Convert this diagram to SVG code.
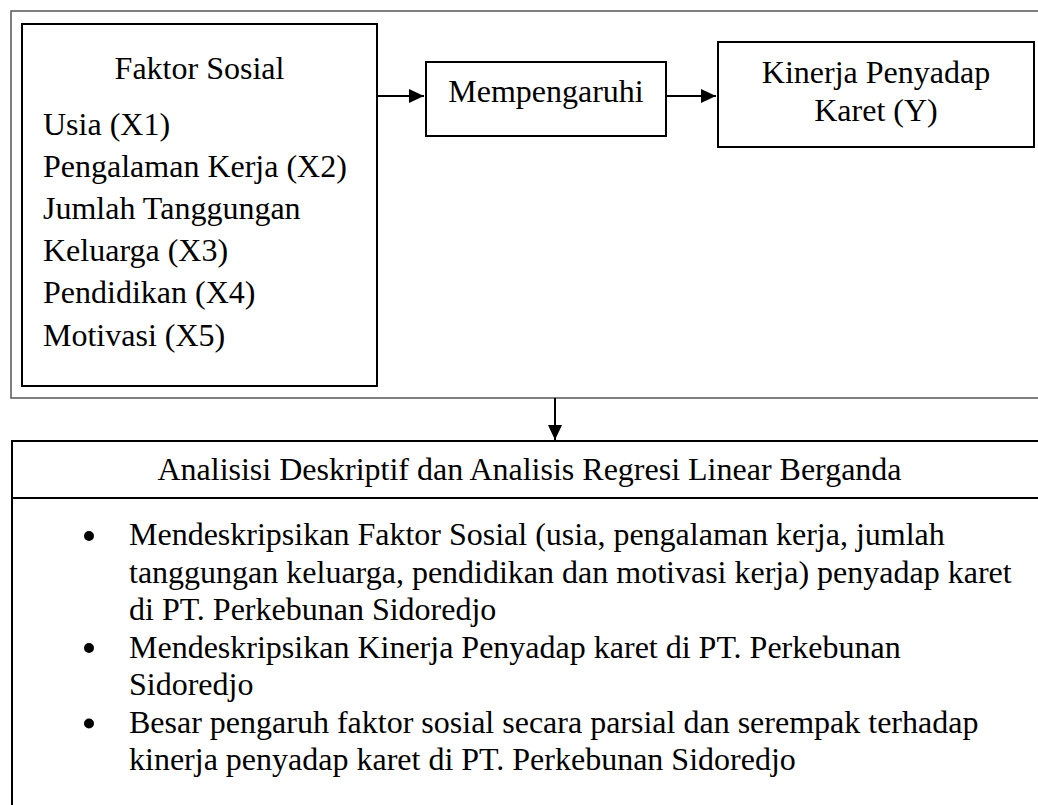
<svg xmlns="http://www.w3.org/2000/svg" width="1038" height="805" viewBox="0 0 1038 805">
<style>
  .t { font-family: "Liberation Serif", "Times New Roman", serif; font-size: 32px; fill: #000; }
  .c { text-anchor: middle; }
  .box { fill: #fff; stroke: #000; stroke-width: 2; }
  .frame { fill: none; stroke: #555; stroke-width: 1.5; }
  .conn { stroke: #000; stroke-width: 2; fill: none; }
</style>
<defs>
  <marker id="ah" markerUnits="userSpaceOnUse" markerWidth="16" markerHeight="16" viewBox="0 0 16 16" refX="15" refY="8" orient="auto">
    <path d="M0,1 L15,8 L0,15 Z" fill="#000"/>
  </marker>
</defs>
<rect width="1038" height="805" fill="#fff"/>
<g id="frame">
  <path class="frame" d="M1038,11 H11 V398 H1038"/>
</g>
<g id="faktor-sosial">
  <rect class="box" x="22" y="24" width="355" height="362"/>
  <text class="t c" x="199.5" y="79">Faktor Sosial</text>
  <text class="t" x="43" y="135">Usia (X1)</text>
  <text class="t" x="43" y="177">Pengalaman Kerja (X2)</text>
  <text class="t" x="43" y="219">Jumlah Tanggungan</text>
  <text class="t" x="43" y="261">Keluarga (X3)</text>
  <text class="t" x="43" y="303">Pendidikan (X4)</text>
  <text class="t" x="43" y="346">Motivasi (X5)</text>
</g>
<g id="mempengaruhi">
  <rect class="box" x="426" y="62" width="240" height="74"/>
  <text class="t c" x="546" y="102">Mempengaruhi</text>
</g>
<g id="kinerja">
  <rect class="box" x="718" y="42" width="316" height="105"/>
  <text class="t c" x="876" y="83">Kinerja Penyadap</text>
  <text class="t c" x="876" y="121">Karet (Y)</text>
</g>
<g id="analisis">
  <path class="box" d="M1038,441 H12 V805" fill="none"/>
  <line x1="12" y1="498" x2="1038" y2="498" stroke="#000" stroke-width="2"/>
  <text class="t c" x="529.5" y="480">Analisisi Deskriptif dan Analisis Regresi Linear Berganda</text>
  <circle cx="89" cy="536" r="5" fill="#000"/>
  <circle cx="89" cy="648" r="5" fill="#000"/>
  <circle cx="89" cy="723.5" r="5" fill="#000"/>
  <text class="t" x="129" y="545">Mendeskripsikan Faktor Sosial (usia, pengalaman kerja, jumlah</text>
  <text class="t" x="129" y="582.5">tanggungan keluarga, pendidikan dan motivasi kerja) penyadap karet</text>
  <text class="t" x="129" y="620">di PT. Perkebunan Sidoredjo</text>
  <text class="t" x="129" y="657.5">Mendeskripsikan Kinerja Penyadap karet di PT. Perkebunan</text>
  <text class="t" x="129" y="695">Sidoredjo</text>
  <text class="t" x="129" y="732.5">Besar pengaruh faktor sosial secara parsial dan serempak terhadap</text>
  <text class="t" x="129" y="770">kinerja penyadap karet di PT. Perkebunan Sidoredjo</text>
</g>
<g id="connectors">
  <line class="conn" x1="377" y1="96" x2="424" y2="96" marker-end="url(#ah)"/>
  <line class="conn" x1="666" y1="96" x2="716" y2="96" marker-end="url(#ah)"/>
  <line class="conn" x1="555" y1="398" x2="555" y2="440" marker-end="url(#ah)"/>
</g>
</svg>
